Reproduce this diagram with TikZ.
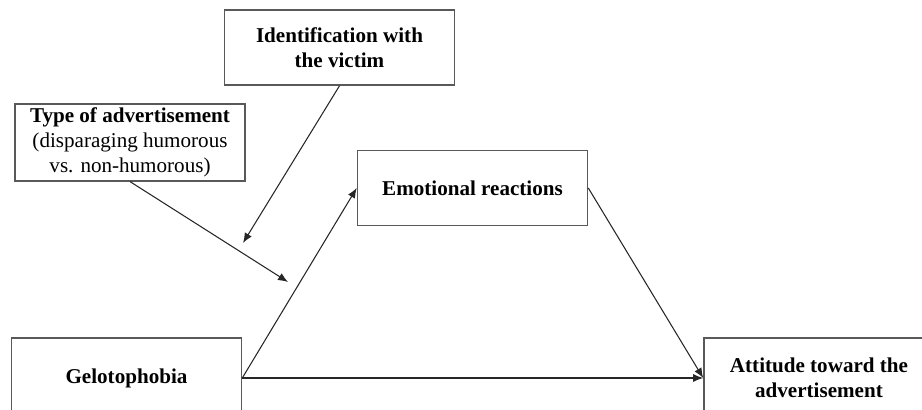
\documentclass[tikz,border=0pt]{standalone}
\usepackage{fontspec}
\setmainfont{Liberation Serif}
\usepackage{tikz}
\usetikzlibrary{arrows.meta, positioning}

\begin{document}
\begin{tikzpicture}[font=\fontsize{12}{14.3}\selectfont,
	bx/.style={rectangle, draw=black!65, line width=0.9pt, minimum width=4.6cm, minimum height=1.5cm, align=center, inner sep=2pt},
	bb/.style={bx, font=\fontsize{12}{14.3}\selectfont\bfseries},
	fl/.style={-{Latex[length=2mm, width=1.6mm]}, line width=0.6pt, black!85}]
	\clip (0,0) rectangle (18.44,8.2);
	% moderators
	\node[bb] (I) at (6.79,7.25) {Identification with\\the victim};
	\node[bx] (T) at (2.6,5.35) {\textbf{Type of advertisement}\\(disparaging humorous\\vs. non-humorous)};
	% mediation
	\node[bb] (E) at (9.45,4.44) {Emotional reactions};
	\node[bb, minimum height=1.6cm] (G) at (2.53,0.64) {Gelotophobia};
	\node[bb, minimum height=1.6cm] (A) at (16.38,0.64) {Attitude toward the\\advertisement};
	\coordinate (mI) at (4.86,3.34);
	\coordinate (mT) at (5.76,2.56);
	\draw[fl] (G.east)--(E.west); \draw[fl] (G.east)--(A.west); \draw[fl] (E.east)--(A.west);
	\draw[fl] (I.south)--(mI); \draw[fl] (T.south)--(mT);
\end{tikzpicture}
\end{document}
